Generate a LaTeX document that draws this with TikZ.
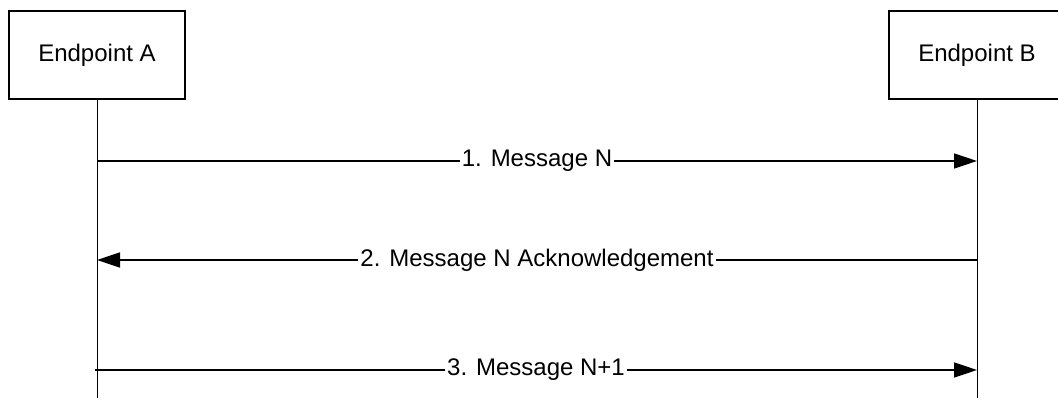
\documentclass[tikz,border=0pt]{standalone}
\usepackage{fontspec}
\setmainfont{Liberation Sans}
\usetikzlibrary{arrows.meta}
\begin{document}
\begin{tikzpicture}[x=1pt,y=-1pt,
  entity/.style={draw=black,line width=1.3pt,minimum width=176pt,minimum height=88pt,inner sep=0pt,font=\fontsize{24}{28}\selectfont},
  lifeline/.style={draw=black,line width=1pt},
  msg/.style={draw=black,line width=1.5pt,-{Triangle[length=23pt,width=15pt]}},
  msglabel/.style={fill=white,inner xsep=2pt,inner ysep=1pt,font=\fontsize{24}{28}\selectfont}]
\useasboundingbox (0,0) rectangle (1058,398);
\clip (0,0) rectangle (1058,398);
\node[entity] (A) at (97,55) {Endpoint A};
\node[entity] (B) at (977,55) {Endpoint B};
\coordinate (Aend) at (97,400);
\coordinate (Bend) at (977,400);
\draw[lifeline] (A.south) -- (Aend);
\draw[lifeline] (B.south) -- (Bend);
\coordinate (a1) at (97,161);
\coordinate (b1) at (977,161);
\coordinate (a2) at (97,260);
\coordinate (b2) at (977,260);
\coordinate (a3) at (95,370);
\coordinate (b3) at (977,370);
\draw[msg] (a1) -- node[msglabel] (l1) {1. Message N} (b1);
\draw[msg] (b2) -- node[msglabel] (l2) {2. Message N Acknowledgement} (a2);
\draw[msg] (a3) -- node[msglabel] (l3) {3. Message N+1} (b3);
\end{tikzpicture}
\end{document}
